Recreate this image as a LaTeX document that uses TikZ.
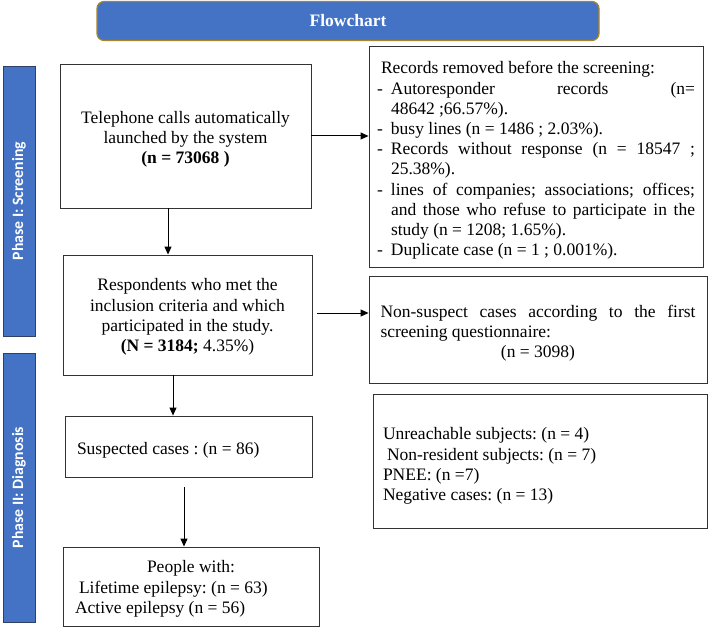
\documentclass[tikz,border=0pt]{standalone}
\usepackage{fontspec}
\setmainfont{Liberation Serif}
\newfontfamily\phasefont{Carlito}
\usetikzlibrary{arrows.meta,calc}
\frenchspacing
\definecolor{hdrblue}{HTML}{4472C4}
\definecolor{hdrgold}{HTML}{A8842C}
\definecolor{barline}{HTML}{2F3F66}
\definecolor{boxline}{HTML}{333333}
\newcommand{\itmdash}{\par\noindent\hangindent=14pt\hangafter=1\makebox[14pt][l]{-}}
% box text: width, top nudge, content
\newcommand{\boxtxt}[3]{\parbox{#1}{\fontsize{17.5}{20.2}\selectfont\vspace*{#2}#3}}
\tikzset{
  flowbox/.style={draw=boxline, line width=0.9pt, fill=white, inner sep=0pt,
    font=\fontsize{17.5}{20.2}\selectfont},
  phasebar/.style={draw=barline, line width=0.9pt, fill=hdrblue, inner sep=0pt,
    minimum width=32pt, text=white, font=\phasefont\bfseries\fontsize{15.8}{18}\selectfont},
  flowarrow/.style={draw=black, line width=1pt, -{Triangle[length=8pt,width=7pt]}}
}
\begin{document}
\begin{tikzpicture}[x=1pt,y=-1pt]
\useasboundingbox (0,0) rectangle (709,628);
% title
\node[draw=hdrgold, line width=1.2pt, fill=hdrblue, rounded corners=7pt,
  minimum width=502pt, minimum height=39pt, inner sep=0pt, text=white,
  font=\bfseries\fontsize{17.5}{20}\selectfont] (title) at (348,21) {\raisebox{-1pt}{Flowchart}};
% phase bars
\node[phasebar, minimum height=270pt] (ph1) at (19,201)
  {\rotatebox{90}{Phase I: Screening}};
\node[phasebar, minimum height=269pt] (ph2) at (19,487.5)
  {\rotatebox{90}{Phase II: Diagnosis}};
% left column
\node[flowbox, minimum width=251pt, minimum height=144pt] (b1) at (185.5,136)
  {\boxtxt{235pt}{6pt}{\centering Telephone calls automatically\\launched by the system\\\textbf{(n = 73068 )}}};
\node[flowbox, minimum width=249pt, minimum height=120pt] (b2) at (187.5,315)
  {\boxtxt{235pt}{4pt}{\centering Respondents who met the\\inclusion criteria and which\\participated in the study.\\\textbf{(N = 3184;} 4.35\%)}};
\node[flowbox, minimum width=247pt, minimum height=61pt] (b3) at (188.5,446.5)
  {\boxtxt{223pt}{8pt}{Suspected cases : (n = 86)}};
\node[flowbox, minimum width=256pt, minimum height=79pt] (b4) at (191,586.5)
  {\boxtxt{232pt}{5pt}{\centering People with:\par
   \raggedright\hspace*{4pt}Lifetime epilepsy: (n = 63)\par
   Active epilepsy (n = 56)}};
% right column
\node[flowbox, minimum width=334pt, minimum height=221pt] (r1) at (536,156.5)
  {\boxtxt{318pt}{8pt}{\noindent\hspace*{4pt}Records removed before the screening:%
   \itmdash Autoresponder records (n=\linebreak 48642 ;66.57\%).%
   \itmdash busy lines (n = 1486 ; 2.03\%).%
   \itmdash Records without response (n = 18547 ;\linebreak 25.38\%).%
   \itmdash lines of companies; associations; offices;\linebreak and those who refuse to participate in the\linebreak study (n = 1208; 1.65\%).%
   \itmdash Duplicate case (n = 1 ; 0.001\%).}};
\node[flowbox, minimum width=338pt, minimum height=107pt] (r2) at (538,329.5)
  {\boxtxt{315pt}{7pt}{Non-suspect cases according to the first\linebreak screening questionnaire:\par
   \noindent\hbox to\hsize{\hfil(n = 3098)\hfil}}};
\node[flowbox, minimum width=334pt, minimum height=134pt] (r3) at (540,461)
  {\boxtxt{314pt}{10pt}{\raggedright Unreachable subjects: (n = 4)\\\hspace*{4pt}Non-resident subjects: (n = 7)\\PNEE: (n =7)\\Negative cases: (n = 13)}};
% connectors
\draw[flowarrow] (b1.east) -- (b1.east -| r1.west);
\draw[flowarrow] ([xshift=-17.5pt]b1.south) -- ([xshift=-17.5pt]b1.south |- b2.north);
\draw[flowarrow, shorten <=5pt] ([yshift=2pt]b2.east) -- ([yshift=2pt]b2.east -| r2.west);
\draw[flowarrow] ([xshift=-14.5pt]b2.south) -- ([xshift=-14.5pt]b2.south |- b3.north);
\draw[flowarrow, shorten <=10pt] ([xshift=-4.5pt]b3.south) -- ([xshift=-4.5pt]b3.south |- b4.north);
\end{tikzpicture}
\end{document}
